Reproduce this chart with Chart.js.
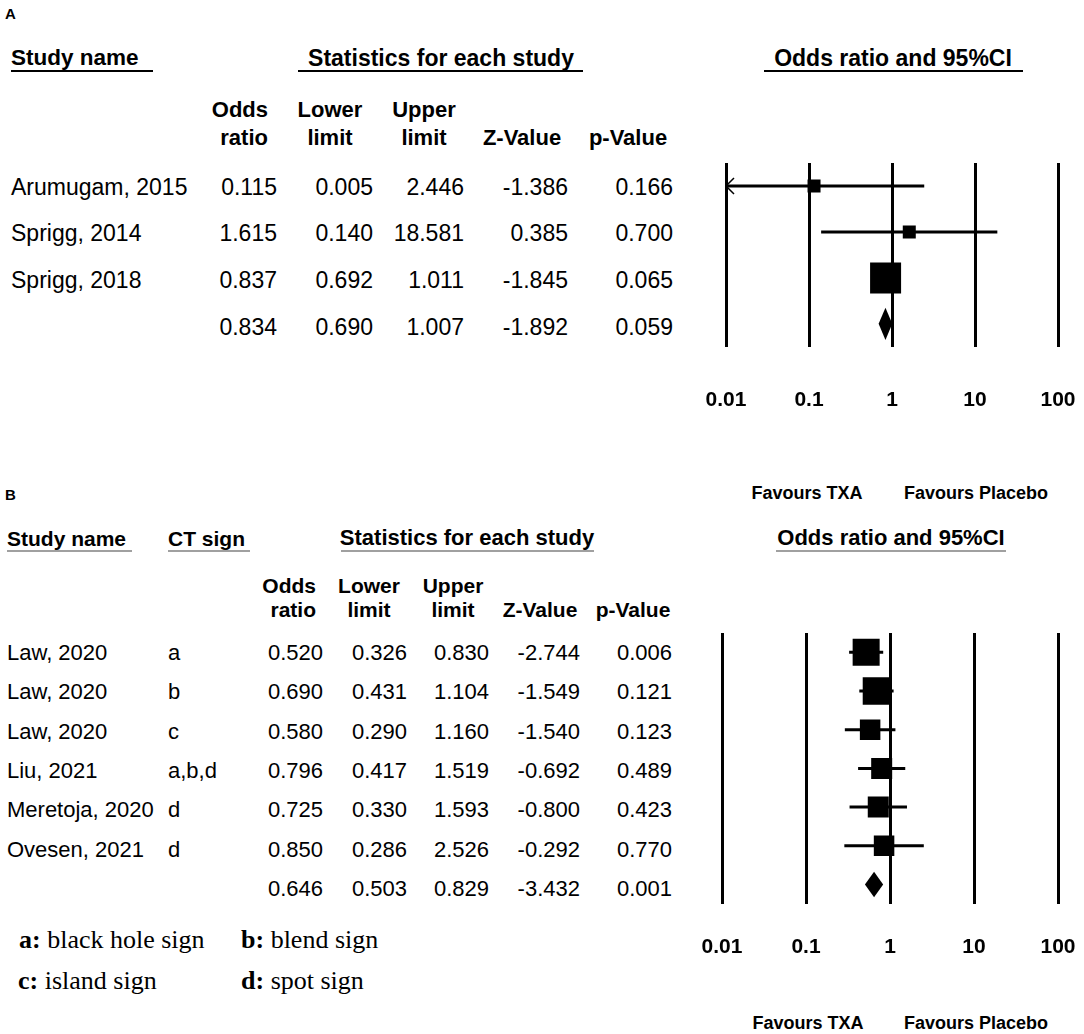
<!DOCTYPE html>
<html>
<head>
<meta charset="utf-8">
<script src="https://cdn.jsdelivr.net/npm/chart.js@4.4.1/dist/chart.umd.min.js"></script>
<style>
html, body { margin: 0; padding: 0; background: #fff; overflow: hidden; }
#page { position: relative; width: 1084px; height: 1034px; font-family: "Liberation Sans", Arial, sans-serif; color: #000; }
.t { position: absolute; white-space: nowrap; line-height: 1; }
.rule { position: absolute; height: 2px; background: #000; }
.serif { font-family: "Liberation Serif", "Times New Roman", serif; }
canvas { position: absolute; }
</style>
</head>
<body>
<div id="page">
  <canvas id="forestA" width="386" height="283" style="left:696px;top:138px"></canvas>
  <canvas id="forestB" width="390" height="360" style="left:692px;top:608px"></canvas>
</div>
<script>
// ---- panel A data
var studiesA = ['Arumugam, 2015', 'Sprigg, 2014', 'Sprigg, 2018']
var oddsA = [0.115, 1.615, 0.837]
var lowerA = [0.005, 0.140, 0.692]
var upperA = [2.446, 18.581, 1.011]
var zA = [-1.386, 0.385, -1.845]
var pA = [0.166, 0.700, 0.065]
var pooledA = [0.834, 0.690, 1.007, -1.892, 0.059] // OR, lower, upper, Z, p

// ---- panel B data
var studiesB = ['Law, 2020', 'Law, 2020', 'Law, 2020', 'Liu, 2021', 'Meretoja, 2020', 'Ovesen, 2021']
var signsB = ['a', 'b', 'c', 'a,b,d', 'd', 'd']
var oddsB = [0.520, 0.690, 0.580, 0.796, 0.725, 0.850]
var lowerB = [0.326, 0.431, 0.290, 0.417, 0.330, 0.286]
var upperB = [0.830, 1.104, 1.160, 1.519, 1.593, 2.526]
var zB = [-2.744, -1.549, -1.540, -0.692, -0.800, -0.292]
var pB = [0.006, 0.121, 0.123, 0.489, 0.423, 0.770]
var pooledB = [0.646, 0.503, 0.829, -3.432, 0.001]

var tickValues = [0.01, 0.1, 1, 10, 100]
var tickLabels = ['0.01', '0.1', '1', '10', '100']

// square side in px (study weight)
var boxA = [13, 13, 31]
var boxB = [27, 27.5, 20.5, 21, 21, 20.5]

var page = document.getElementById('page')

function put(text, x, y, opt) {
    opt = opt || {}
    var el = document.createElement('div')
    el.className = 't' + (opt.cls ? ' ' + opt.cls : '')
    if (opt.html) el.innerHTML = text; else el.textContent = text
    el.style.left = x + 'px'
    el.style.top = y + 'px'
    el.style.fontSize = (opt.size || 22) + 'px'
    if (opt.bold) el.style.fontWeight = 'bold'
    var tx = opt.align === 'right' ? '-100%' : opt.align === 'center' ? '-50%' : '0'
    el.style.transform = 'translate(' + tx + ',-50%)'
    page.appendChild(el)
}

function rule(x1, x2, y, color) {
    var el = document.createElement('div')
    el.className = 'rule'
    el.style.left = x1 + 'px'
    el.style.width = (x2 - x1) + 'px'
    el.style.top = y + 'px'
    if (color) el.style.background = color
    page.appendChild(el)
}

function fmt(v) { return v.toFixed(3) }

// ---- panel A table
put('A', 5, 13, {size: 15, bold: true})
put('Study name', 11, 58, {size: 22.5, bold: true})
rule(11, 153, 70)
put('Statistics for each study', 441, 58, {size: 23, bold: true, align: 'center'})
rule(298, 583, 70)
put('Odds ratio and 95%CI', 893, 58, {size: 23, bold: true, align: 'center'})
rule(764, 1023, 70)

var headA = [['Odds', 'ratio', 268, 'right'], ['Lower', 'limit', 330, 'center'], ['Upper', 'limit', 424, 'center'],
             ['', 'Z-Value', 522, 'center'], ['', 'p-Value', 628, 'center']]
headA.forEach(function(h) {
    if (h[0]) put(h[0], h[2], 110, {bold: true, align: h[3]})
    put(h[1], h[2], 138, {bold: true, align: h[3]})
})

var colA = [277, 373, 464, 568, 673]
var rowA = [187, 233, 280, 327]
studiesA.forEach(function(s, i) {
    put(s, 11, rowA[i], {size: 23})
    var vals = [oddsA[i], lowerA[i], upperA[i], zA[i], pA[i]]
    vals.forEach(function(v, j) { put(fmt(v), colA[j], rowA[i], {size: 23, align: 'right'}) })
})
pooledA.forEach(function(v, j) { put(fmt(v), colA[j], rowA[3], {size: 23, align: 'right'}) })

put('Favours TXA', 807, 493, {size: 18, bold: true, align: 'center'})
put('Favours Placebo', 976, 493, {size: 18, bold: true, align: 'center'})

// ---- panel B table
put('B', 5, 494, {size: 15, bold: true})
put('Study name', 7, 538, {size: 21, bold: true})
rule(7, 132, 550, '#a0a0a0')
put('CT sign', 168, 538, {size: 21, bold: true})
rule(168, 250, 550, '#a0a0a0')
put('Statistics for each study', 467, 538, {size: 22, bold: true, align: 'center'})
rule(341, 594, 550, '#a0a0a0')
put('Odds ratio and 95%CI', 891, 538, {size: 22, bold: true, align: 'center'})
rule(776, 1006, 550, '#a0a0a0')

var headB = [['Odds', 'ratio', 316, 'right'], ['Lower', 'limit', 369, 'center'], ['Upper', 'limit', 453, 'center'],
             ['', 'Z-Value', 540, 'center'], ['', 'p-Value', 633, 'center']]
headB.forEach(function(h) {
    if (h[0]) put(h[0], h[2], 585, {size: 21, bold: true, align: h[3]})
    put(h[1], h[2], 609, {size: 21, bold: true, align: h[3]})
})

var colB = [323, 407, 489, 580, 672]
studiesB.forEach(function(s, i) {
    var y = 653 + i * 39.3
    put(s, 7, y)
    put(signsB[i], 168, y)
    var vals = [oddsB[i], lowerB[i], upperB[i], zB[i], pB[i]]
    vals.forEach(function(v, j) { put(fmt(v), colB[j], y, {align: 'right'}) })
})
pooledB.forEach(function(v, j) { put(fmt(v), colB[j], 653 + 6 * 39.3, {align: 'right'}) })

put('<b>a:</b> black hole sign', 19, 940, {html: true, size: 26, cls: 'serif'})
put('<b>b:</b> blend sign', 241, 940, {html: true, size: 26, cls: 'serif'})
put('<b>c:</b> island sign', 18, 981, {html: true, size: 26, cls: 'serif'})
put('<b>d:</b> spot sign', 241, 981, {html: true, size: 26, cls: 'serif'})

put('Favours TXA', 808, 1023, {size: 18, bold: true, align: 'center'})
put('Favours Placebo', 976, 1023, {size: 18, bold: true, align: 'center'})

// ---- forest plots
function forestMarks(lower, upper, pooled, diamondHalf) {
    return {
        id: 'forestMarks',
        beforeDatasetsDraw: function(chart) {
            var x = chart.scales.x, y = chart.scales.y, ctx = chart.ctx
            ctx.save()
            ctx.strokeStyle = '#000'
            ctx.fillStyle = '#000'
            lower.forEach(function(lo, i) {
                var py = y.getPixelForValue(i)
                var left = x.getPixelForValue(Math.max(lo, x.min))
                var right = x.getPixelForValue(Math.min(upper[i], x.max))
                ctx.lineWidth = 3
                ctx.beginPath()
                ctx.moveTo(left, py)
                ctx.lineTo(right, py)
                ctx.stroke()
                if (lo < x.min) { // arrow for CI running off the scale
                    ctx.lineWidth = 1.5
                    ctx.beginPath()
                    ctx.moveTo(left + 8, py - 8)
                    ctx.lineTo(left, py)
                    ctx.lineTo(left + 8, py + 8)
                    ctx.stroke()
                }
            })
            var row = lower.length
            var py = y.getPixelForValue(row)
            ctx.beginPath()
            ctx.moveTo(x.getPixelForValue(pooled[1]), py)
            ctx.lineTo(x.getPixelForValue(pooled[0]), y.getPixelForValue(row - diamondHalf))
            ctx.lineTo(x.getPixelForValue(pooled[2]), py)
            ctx.lineTo(x.getPixelForValue(pooled[0]), y.getPixelForValue(row + diamondHalf))
            ctx.closePath()
            ctx.fill()
            ctx.restore()
        }
    }
}

function makeForest(id, odds, lower, upper, pooled, boxes, diamondHalf, labelGap) {
    var ctx = document.getElementById(id).getContext('2d')
    return new Chart(ctx, {
        type: 'scatter',
        data: {
            datasets: [{
                data: odds.map(function(v, i) { return {x: v, y: i} }),
                pointStyle: 'rect',
                pointRadius: boxes.map(function(s) { return s / Math.SQRT2 }),
                pointBackgroundColor: '#000',
                pointBorderWidth: 0,
                showLine: false
            }]
        },
        options: {
            responsive: false,
            animation: false,
            events: [],
            layout: {padding: {left: 30, right: 24, top: 25, bottom: 5}},
            plugins: {legend: {display: false}, tooltip: {enabled: false}},
            scales: {
                x: {
                    type: 'logarithmic',
                    min: tickValues[0],
                    max: tickValues[tickValues.length - 1],
                    afterBuildTicks: function(scale) {
                        scale.ticks = tickValues.map(function(v) { return {value: v} })
                    },
                    ticks: {
                        callback: function(v, i) { return tickLabels[i] },
                        font: {family: '"Liberation Sans", Arial, sans-serif', size: 21, weight: 'bold'},
                        color: '#000',
                        padding: 3,
                        maxRotation: 0,
                        autoSkip: false
                    },
                    // invisible tick marks give the gap between plot and labels
                    grid: {color: '#000', lineWidth: 3, drawTicks: true, tickLength: labelGap, tickColor: 'rgba(0,0,0,0)'},
                    border: {display: false}
                },
                y: {
                    type: 'linear',
                    min: -0.5,
                    max: odds.length + 0.5,
                    reverse: true,
                    display: false
                }
            }
        },
        plugins: [forestMarks(lower, upper, pooled, diamondHalf)]
    })
}

makeForest('forestA', oddsA, lowerA, upperA, pooledA, boxA, 0.35, 38)
makeForest('forestB', oddsB, lowerB, upperB, pooledB, boxB, 0.33, 28)
</script>
</body>
</html>
